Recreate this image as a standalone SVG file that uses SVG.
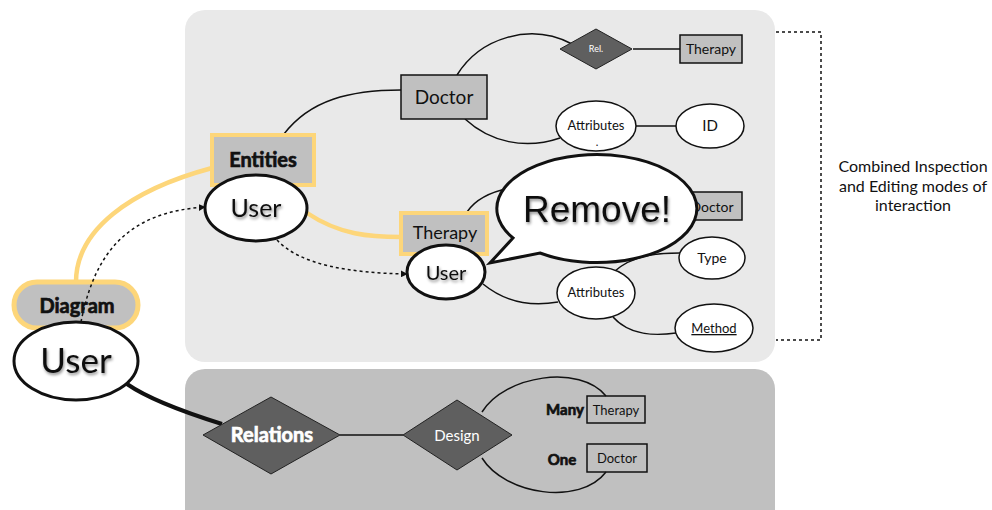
<svg xmlns="http://www.w3.org/2000/svg" width="992" height="510" viewBox="0 0 992 510">
<defs>
<style>
.t{font-family:Lato,"Open Sans","DejaVu Sans",sans-serif;fill:#111;text-anchor:middle}
.b{font-weight:bold;stroke:#111;stroke-width:0.7;paint-order:stroke}
.w{fill:#fff}
.bw{stroke:#fff}
.ent{fill:#c0c0c0;stroke:#111;stroke-width:1.5}
.ell{fill:#fff;stroke:#111;stroke-width:1.5}
.uell{fill:#fff;stroke:#111;stroke-width:3}
.dia{fill:#5f5f5f;stroke:#222;stroke-width:1}
.ln{fill:none;stroke:#111;stroke-width:1.5}
.yl{fill:none;stroke:#fdd67a;stroke-width:4.5}
.dot{fill:none;stroke:#111;stroke-width:1.5;stroke-dasharray:3 3}
.sh{filter:url(#shadow)}
</style>
<filter id="shadow" x="-20%" y="-30%" width="140%" height="160%">
<feDropShadow dx="1" dy="2" stdDeviation="1.5" flood-color="#000" flood-opacity="0.45"/>
</filter>
<marker id="arr" viewBox="0 0 10 10" refX="9" refY="5" markerWidth="7" markerHeight="7" orient="auto" markerUnits="userSpaceOnUse">
<path d="M0,0 L10,5 L0,10 Z" fill="#111"/>
</marker>
</defs>
<rect x="0" y="0" width="992" height="510" fill="#fff"/>
<g id="panels">
<rect x="185" y="10" width="590" height="352" rx="20" fill="#e9e9e9"/>
<rect x="185" y="369" width="590" height="170" rx="20" fill="#c0c0c0"/>
</g>
<g id="diagram">
<rect x="14" y="282" width="124" height="46" rx="23" fill="#c0c0c0" stroke="#fdd67a" stroke-width="5"/>
<text class="t b" x="77" y="313" font-size="20">Diagram</text>
</g>
<g id="connectors">
<path class="ln" d="M284,134 C310,100 350,90 401,90"/>
<path class="ln" d="M457,75 C480,38 530,22 572,44"/>
<path class="ln" d="M465,119 C490,142 525,150 560,138"/>
<path class="ln" d="M633,49 L680,49"/>
<path class="ln" d="M636,126 L677,126"/>
<path class="ln" d="M467,212 C475,200 490,192 510,188"/>
<path class="ln" d="M615,271 C632,256 655,253 680,253"/>
<path class="ln" d="M483,284 C505,302 530,307 558,302"/>
<path class="ln" d="M613,317 C630,336 655,336 676,333"/>
<path class="yl" d="M76,282 C76,230 130,190 212,168"/>
<path class="yl" d="M307,213 C340,235 370,237 401,237"/>
<path class="dot" marker-end="url(#arr)" d="M81,322 C95,250 130,212 205,207"/>
<path class="dot" marker-end="url(#arr)" d="M277,240 C300,265 350,273 407,274"/>
<path d="M127,384 C150,400 190,414 222,424" fill="none" stroke="#111" stroke-width="4"/>
<path class="ln" d="M340,435 L403,435" stroke-width="2"/>
<path class="ln" d="M482,412 C505,375 580,364 606,396"/>
<path class="ln" d="M482,458 C505,495 580,506 606,472"/>
<path class="dot" d="M776,32 L821,32 L821,340 L776,340"/>
</g>
<g id="doctor-top">
<rect class="ent" x="401" y="75" width="86" height="44"/>
<text class="t" x="444" y="104" font-size="19">Doctor</text>
</g>
<g id="rel">
<path class="dia" d="M560,49 L596,29 L632,49 L596,69 Z"/>
<text class="t w" x="596" y="52" font-size="9">Rel.</text>
</g>
<g id="therapy-top">
<rect class="ent" x="680" y="35" width="62" height="28"/>
<text class="t" x="711" y="54" font-size="14">Therapy</text>
</g>
<g id="attributes-top">
<ellipse class="ell" cx="596" cy="126" rx="40" ry="25"/>
<text class="t" x="596" y="130" font-size="13">Attributes</text>
<text class="t" x="597" y="146" font-size="11">.</text>
</g>
<g id="id">
<ellipse class="ell" cx="710" cy="126" rx="34" ry="22"/>
<text class="t" x="710" y="131" font-size="15">ID</text>
</g>
<g id="entities">
<rect x="212" y="135" width="102" height="50" fill="#c0c0c0" stroke="#fdd67a" stroke-width="4"/>
<text class="t b" x="263" y="167" font-size="20">Entities</text>
</g>
<g id="user-mid">
<ellipse class="uell" cx="256" cy="208" rx="51" ry="33"/>
<text class="t sh" x="256" y="217" font-size="25">User</text>
</g>
<g id="doctor-mid">
<rect class="ent" x="680" y="192" width="62" height="28"/>
<text class="t" x="712" y="212" font-size="14">Doctor</text>
</g>
<g id="therapy-mid">
<rect x="401" y="213" width="86" height="41" fill="#c0c0c0" stroke="#fdd67a" stroke-width="4"/>
<text class="t" x="445" y="239" font-size="18">Therapy</text>
</g>
<g id="user-small">
<ellipse class="uell" cx="446" cy="272" rx="39" ry="27"/>
<text class="t sh" x="446" y="280" font-size="20">User</text>
</g>
<g id="type">
<ellipse class="ell" cx="712" cy="258" rx="33" ry="21"/>
<text class="t" x="712" y="263" font-size="14">Type</text>
</g>
<g id="attributes-bottom">
<ellipse class="ell" cx="596" cy="293" rx="39" ry="26"/>
<text class="t" x="596" y="297" font-size="13">Attributes</text>
</g>
<g id="method">
<ellipse class="ell" cx="714" cy="328" rx="39" ry="24"/>
<text class="t" x="714" y="333" font-size="13" text-decoration="underline">Method</text>
</g>
<g id="remove">
<path d="M513,238 A100,54 0 1 1 540,253 L490,263 Z" fill="#fff" stroke="#111" stroke-width="3" stroke-linejoin="miter"/>
<text class="sh" x="597" y="222" font-size="37" text-anchor="middle" font-family="'Liberation Sans',Arial,sans-serif" fill="#111">Remove!</text>
</g>
<g id="user-big">
<ellipse class="uell" cx="76" cy="361" rx="62" ry="39"/>
<text class="t sh" x="76" y="373" font-size="35">User</text>
</g>
<g id="relations">
<path class="dia" d="M203,435 L271,397 L340,435 L271,474 Z"/>
<text class="t b w bw" x="272" y="442" font-size="20">Relations</text>
</g>
<g id="design">
<path class="dia" d="M403,435 L457,400 L512,435 L457,470 Z"/>
<text class="t w" x="457" y="441" font-size="15">Design</text>
</g>
<g id="therapy-bottom">
<text class="t b" x="565" y="415" font-size="15">Many</text>
<rect x="587" y="396" width="58" height="27" fill="none" stroke="#111" stroke-width="1.5"/>
<text class="t" x="616" y="415" font-size="13">Therapy</text>
</g>
<g id="doctor-bottom">
<text class="t b" x="562" y="465" font-size="15">One</text>
<rect x="587" y="444" width="60" height="28" fill="none" stroke="#111" stroke-width="1.5"/>
<text class="t" x="617" y="463" font-size="13">Doctor</text>
</g>
<g id="note">
<text class="t" x="913" y="172" font-size="16">Combined Inspection</text>
<text class="t" x="913" y="192" font-size="16">and Editing modes of</text>
<text class="t" x="913" y="211" font-size="16">interaction</text>
</g>
</svg>
